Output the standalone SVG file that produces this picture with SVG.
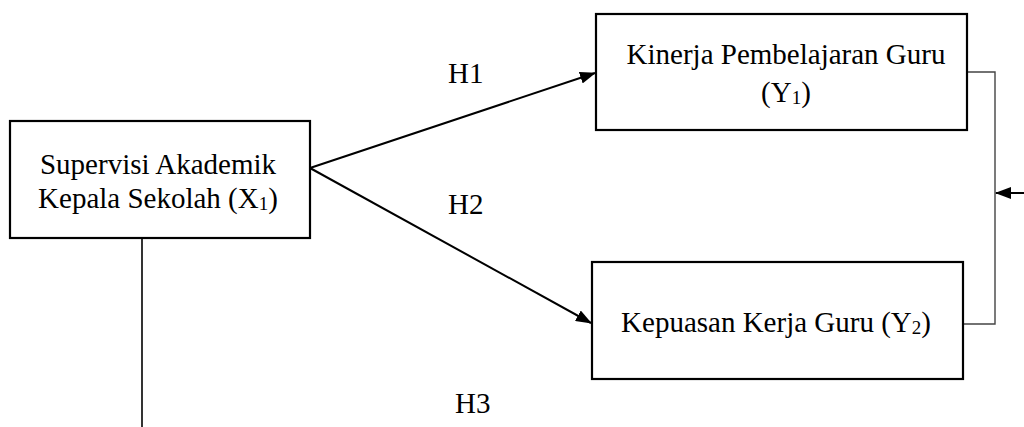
<svg xmlns="http://www.w3.org/2000/svg" width="1024" height="427" viewBox="0 0 1024 427">
<style>
.box{fill:#fff;stroke:#000;stroke-width:2.2}
.t{font-family:"Liberation Serif","Times New Roman",serif;font-size:29px;fill:#000}
.sub{font-size:19px}
.arrow{stroke:#000;stroke-width:2;fill:none}
.thin{stroke:#444;stroke-width:1.4;fill:none}
</style>
<defs>
<marker id="ah" viewBox="0 0 16 12" refX="15" refY="6" markerWidth="16" markerHeight="12" markerUnits="userSpaceOnUse" orient="auto">
<path d="M0,0 L16,6 L0,12 Z" fill="#000"/>
</marker>
</defs>
<rect width="1024" height="427" fill="#fff"/>
<g id="connectors">
<line class="arrow" x1="310" y1="168" x2="595" y2="73" marker-end="url(#ah)"/>
<line class="arrow" x1="310" y1="168" x2="591" y2="323" marker-end="url(#ah)"/>
<polyline class="thin" points="967,72 995,72 995,324 963,324"/>
<line class="arrow" x1="1024" y1="193" x2="996" y2="193" marker-end="url(#ah)"/>
<line class="arrow" x1="142" y1="238" x2="142" y2="427" style="stroke-width:1.6"/>
<text class="t" x="448" y="83">H1</text>
<text class="t" x="448" y="214">H2</text>
<text class="t" x="455" y="413">H3</text>
</g>
<g id="x1">
<rect class="box" x="10" y="121" width="300" height="117"/>
<text class="t" x="158" y="174" text-anchor="middle">Supervisi Akademik</text>
<text class="t" x="158" y="208" text-anchor="middle">Kepala Sekolah (X<tspan class="sub" dy="2">1</tspan><tspan dy="-2">)</tspan></text>
</g>
<g id="y1">
<rect class="box" x="596" y="14" width="371" height="116"/>
<text class="t" x="786" y="64" text-anchor="middle">Kinerja Pembelajaran Guru</text>
<text class="t" x="786" y="102" text-anchor="middle">(Y<tspan class="sub" dy="2">1</tspan><tspan dy="-2">)</tspan></text>
</g>
<g id="y2">
<rect class="box" x="592" y="262" width="371" height="117"/>
<text class="t" x="776" y="332" text-anchor="middle">Kepuasan Kerja Guru (Y<tspan class="sub" dy="2">2</tspan><tspan dy="-2">)</tspan></text>
</g>
</svg>
